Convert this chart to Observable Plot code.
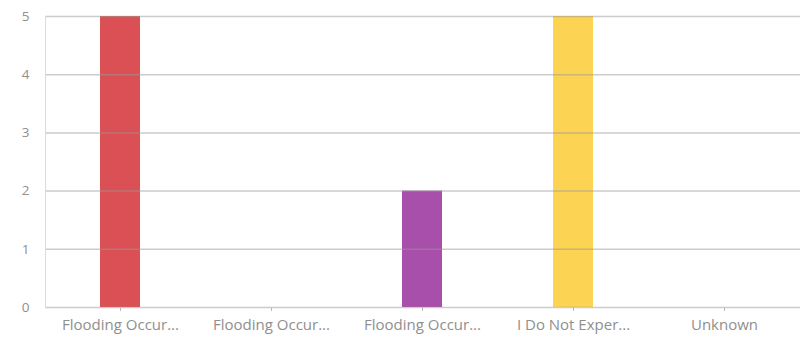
<!DOCTYPE html>
<html>
<head>
<meta charset="utf-8">
<script src="https://cdn.jsdelivr.net/npm/d3@7"></script>
<script src="https://cdn.jsdelivr.net/npm/@observablehq/plot@0.6"></script>
<style>
  html, body { margin: 0; padding: 0; background: #fff; }
  #chart svg { display: block; }
</style>
</head>
<body>
<div id="chart"></div>
<script>
const categories = ["cat1", "cat2", "cat3", "cat4", "cat5"];
const tickLabels = ["Flooding Occur...", "Flooding Occur...", "Flooding Occur...", "I Do Not Exper...", "Unknown"];
const values = [5, 0, 2, 5, 0];
const colors = ["#d8474b", "#3a7fc4", "#a246a5", "#fdd14b", "#6fb15a"];
const yTicks = [0, 1, 2, 3, 4, 5];

const data = categories.map((c, i) => ({ category: c, value: values[i], color: colors[i] }));
const fmtX = (d) => tickLabels[categories.indexOf(d)];

const chart = Plot.plot({
  width: 807,
  height: 338,
  marginLeft: 45,
  marginRight: 7,
  marginTop: 16,
  marginBottom: 31,
  style: { fontFamily: "'Open Sans', sans-serif", fontSize: "13px", color: "#8f8f8f", background: "#fff" },
  x: { domain: categories, paddingInner: 0.735, paddingOuter: 0.3675, label: null },
  y: { domain: [0, 5], label: null },
  marks: [
    Plot.barY(data, { x: "category", y: "value", fill: "color", fillOpacity: 0.95 }),
    Plot.ruleY(yTicks, { stroke: "#9a9a9a", strokeOpacity: 0.5, strokeWidth: 1.5 }),
    Plot.frame({ anchor: "left", stroke: "#dcdcdc" }),
    Plot.axisX({ tickFormat: fmtX, tickSize: 4, tickPadding: 8, stroke: "#bbb", label: null, fontSize: 15 }),
    Plot.axisY({ ticks: yTicks, tickFormat: "d", tickSize: 0, tickPadding: 16, label: null, fontSize: 13.5 })
  ]
});
document.getElementById("chart").appendChild(chart);
</script>
</body>
</html>
